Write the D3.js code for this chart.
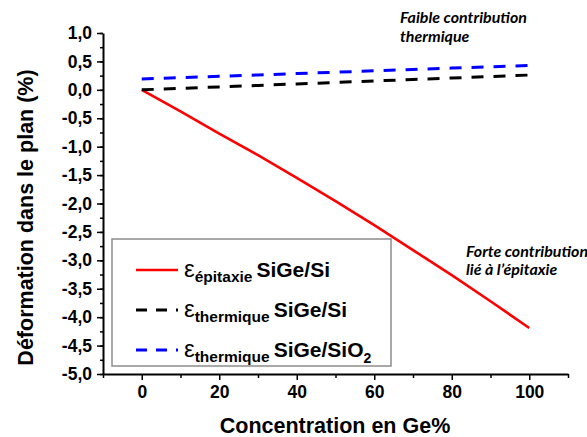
<!DOCTYPE html>
<html>
<head>
<meta charset="utf-8">
<script src="https://cdn.jsdelivr.net/npm/d3@7"></script>
<style>
  html, body { margin: 0; padding: 0; background: #fff; }
  svg { display: block; }
  .ax text { font-family: "Liberation Sans", Arial, sans-serif; font-weight: bold; font-size: 17.5px; fill: #000; }
  .ax path, .ax line { stroke: #000; }
</style>
</head>
<body>
<svg id="chart" width="587" height="437"></svg>
<script>
// ---- data ----
const geConc = [0, 10, 20, 30, 40, 50, 60, 70, 80, 90, 100];
const epsEpitaxie = [0, -0.38, -0.77, -1.15, -1.55, -1.96, -2.38, -2.82, -3.26, -3.72, -4.19];
const epsThermSi = [0, 0.026, 0.052, 0.078, 0.104, 0.13, 0.156, 0.182, 0.208, 0.234, 0.26];
const epsThermSiO2 = [0.19, 0.214, 0.238, 0.262, 0.286, 0.31, 0.334, 0.358, 0.382, 0.406, 0.43];
const xTicks = [0, 20, 40, 60, 80, 100];
const xMinor = [-10, 10, 30, 50, 70, 90, 110];
const yTicks = [1, 0.5, 0, -0.5, -1, -1.5, -2, -2.5, -3, -3.5, -4, -4.5, -5];
const seriesNames = ["épitaxie", "thermique", "thermique"];
const seriesSubstrates = ["SiGe/Si", "SiGe/Si", "SiGe/SiO"];
const seriesColors = ["#ff0000", "#000000", "#0000ff"];
const xTitle = "Concentration en Ge%";
const yTitle = "Déformation dans le plan (%)";
const note1 = ["Faible contribution", "thermique"];
const note2 = ["Forte contribution", "lié à l’épitaxie"];

const svg = d3.select("#chart");
const x = d3.scaleLinear().domain([-10, 110]).range([103, 568]);
const y = d3.scaleLinear().domain([-5, 1]).range([374, 33]);
const fmt = d => d3.format(".1f")(d).replace(".", ",").replace("−", "-");

// minor ticks
svg.append("g").attr("class", "ax").attr("transform", "translate(103,0)")
  .call(d3.axisLeft(y).tickValues(d3.range(-5, 1.001, 0.25)).tickSize(3).tickFormat(""))
  .call(g => g.select(".domain").remove())
  .selectAll("line").attr("stroke-width", 1.5);
svg.append("g").attr("class", "ax").attr("transform", "translate(0,374)")
  .call(d3.axisBottom(x).tickValues(xMinor).tickSize(4).tickFormat(""))
  .call(g => g.select(".domain").remove())
  .selectAll("line").attr("stroke-width", 1.5);

// y axis
const yAx = svg.append("g").attr("class", "ax").attr("transform", "translate(103,0)")
  .call(d3.axisLeft(y).tickValues(yTicks).tickSize(6).tickPadding(5).tickFormat(fmt).tickSizeOuter(0));
yAx.select(".domain").attr("stroke-width", 2);
yAx.selectAll("line").attr("stroke-width", 1.5);

// x axis
const xAx = svg.append("g").attr("class", "ax").attr("transform", "translate(0,374)")
  .call(d3.axisBottom(x).tickValues(xTicks).tickSize(6).tickPadding(6).tickFormat(d3.format("d")).tickSizeOuter(0));
xAx.select(".domain").attr("stroke-width", 2);
xAx.selectAll("line").attr("stroke-width", 1.5);
xAx.selectAll("text").attr("font-size", "18px");

// titles
svg.append("text").attr("x", 335).attr("y", 433).attr("text-anchor", "middle")
  .style("font-family", "'Liberation Sans', Arial, sans-serif").style("font-weight", "bold").style("font-size", "21.5px")
  .text(xTitle);
svg.append("text").attr("transform", "translate(33,217.5) rotate(-90)").attr("text-anchor", "middle")
  .style("font-family", "'Liberation Sans', Arial, sans-serif").style("font-weight", "bold").style("font-size", "21.5px")
  .text(yTitle);

// lines
const line = d3.line().x((d, i) => x(geConc[i])).y(d => y(d));
const allSeries = [epsEpitaxie, epsThermSi, epsThermSiO2];
const dashes = [null, "12,10", "12,10"];
allSeries.forEach((s, k) => {
  svg.append("path").datum(s).attr("d", line).attr("fill", "none")
    .attr("stroke", seriesColors[k]).attr("stroke-width", k === 0 ? 2.6 : 3)
    .attr("stroke-dasharray", dashes[k]);
});

// legend
svg.append("rect").attr("x", 112).attr("y", 239).attr("width", 279).attr("height", 127)
  .attr("fill", "#fff").attr("stroke", "#8c8c8c").attr("stroke-width", 1.5);
const rowY = [270, 310, 350];
seriesNames.forEach((nm, k) => {
  svg.append("line").attr("x1", 136).attr("x2", 178).attr("y1", rowY[k]).attr("y2", rowY[k])
    .attr("stroke", seriesColors[k]).attr("stroke-width", k === 0 ? 2.6 : 3)
    .attr("stroke-dasharray", k === 0 ? null : "11,9");
  const t = svg.append("text").attr("x", 184).attr("y", rowY[k] + 7)
    .style("font-family", "'Liberation Sans', Arial, sans-serif").style("font-weight", "bold");
  t.append("tspan").style("font-size", "24px").style("font-weight", "normal").text("ε");
  t.append("tspan").attr("dy", 5).style("font-size", "15.5px").text(nm);
  t.append("tspan").attr("dy", -5).attr("dx", 4).style("font-size", "21px").text(seriesSubstrates[k]);
  if (k === 2) t.append("tspan").attr("dy", 6).style("font-size", "14px").text("2");
});

// annotations
const noteStyle = sel => sel.style("font-family", "Lato, 'Open Sans', sans-serif")
  .style("font-weight", "bold").style("font-style", "italic").style("font-size", "16px");
note1.forEach((s, i) => svg.append("text").attr("x", 400).attr("y", 23 + i * 19).call(noteStyle).text(s));
note2.forEach((s, i) => svg.append("text").attr("x", 466).attr("y", 257 + i * 18).call(noteStyle).text(s));
</script>
</body>
</html>
